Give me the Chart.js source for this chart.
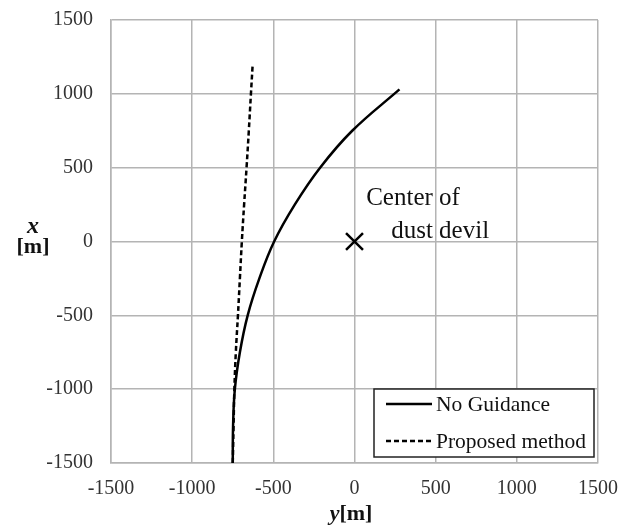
<!DOCTYPE html>
<html>
<head>
<meta charset="utf-8">
<script src="https://cdn.jsdelivr.net/npm/chart.js@4/dist/chart.umd.min.js"></script>
<style>
  html, body { margin: 0; padding: 0; background: #ffffff; }
  canvas { display: block; }
</style>
</head>
<body>
<canvas id="c" width="633" height="529"></canvas>
<script>
// ---- Data (horizontal axis = y [m], vertical axis = x [m]) ----
const noGuidanceX = [-1500, -1250, -1000, -750, -500, -250, 0, 250, 500, 750, 1030];
const noGuidanceY = [-750, -748, -737, -706, -658, -586, -495, -368, -212, -14, 277];

const proposedX = [-1500, -1250, -1000, -750, -500, -250, 0, 250, 500, 750, 1000, 1186];
const proposedY = [-750, -745, -740, -731, -718, -706, -694, -680, -665, -651, -638, -628];

const centerX = [0];
const centerY = [0];

const tickValues = [-1500, -1000, -500, 0, 500, 1000, 1500];

const seriesNames = ["No Guidance", "Proposed method"];
const centerLabel = ["Center of", "dust devil"];

function toPoints(hor, ver) {
  return hor.map((h, i) => ({ x: h, y: ver[i] }));
}

const SERIF = "'Liberation Serif', 'DejaVu Serif', serif";
const GRID = '#b4b4b4';

const overlayPlugin = {
  id: 'overlay',
  afterDraw(chart) {
    const ctx = chart.ctx;
    const area = chart.chartArea;
    const xs = chart.scales.x, ys = chart.scales.y;
    ctx.save();

    // Annotation text
    ctx.fillStyle = '#111111';
    ctx.font = "25px " + SERIF;
    ctx.textAlign = 'left';
    ctx.textBaseline = 'alphabetic';
    ctx.fillText(centerLabel[0], xs.getPixelForValue(72), ys.getPixelForValue(250));
    ctx.fillText(centerLabel[1], xs.getPixelForValue(226), ys.getPixelForValue(27));

    // Axis titles
    ctx.fillStyle = '#111111';
    ctx.textAlign = 'center';
    ctx.font = "italic bold 24px " + SERIF;
    ctx.fillText('x', 33, 233);
    ctx.font = "bold 22px " + SERIF;
    ctx.fillText('[m]', 33, 253);

    ctx.textAlign = 'left';
    ctx.font = "italic bold 22px " + SERIF;
    const yw = ctx.measureText('y').width;
    ctx.font = "bold 22px " + SERIF;
    const mw = ctx.measureText('[m]').width;
    const startX = 351 - (yw + mw) / 2;
    ctx.font = "italic bold 22px " + SERIF;
    ctx.fillText('y', startX, 520);
    ctx.font = "bold 22px " + SERIF;
    ctx.fillText('[m]', startX + yw, 520);

    // Legend box
    const bx = area.right - 224, by = area.bottom - 74, bw = 220, bh = 68;
    ctx.fillStyle = '#ffffff';
    ctx.fillRect(bx, by, bw, bh);
    ctx.strokeStyle = '#222222';
    ctx.lineWidth = 1.5;
    ctx.strokeRect(bx, by, bw, bh);

    const rows = [
      { name: seriesNames[0], dash: [], y: by + 15 },
      { name: seriesNames[1], dash: [5, 3], y: by + 52 }
    ];
    rows.forEach(r => {
      ctx.beginPath();
      ctx.setLineDash(r.dash);
      ctx.strokeStyle = '#000000';
      ctx.lineWidth = 2.5;
      ctx.moveTo(bx + 12, r.y);
      ctx.lineTo(bx + 58, r.y);
      ctx.stroke();
      ctx.setLineDash([]);
      ctx.fillStyle = '#111111';
      ctx.font = "21.5px " + SERIF;
      ctx.textAlign = 'left';
      ctx.textBaseline = 'alphabetic';
      ctx.fillText(r.name, bx + 62, r.y + 7);
    });

    ctx.restore();
  }
};

new Chart(document.getElementById('c'), {
  type: 'scatter',
  data: {
    datasets: [
      {
        label: seriesNames[0],
        data: toPoints(noGuidanceY, noGuidanceX),
        showLine: true,
        borderColor: '#000000',
        borderWidth: 2.5,
        pointRadius: 0,
        tension: 0.4,
        fill: false
      },
      {
        label: seriesNames[1],
        data: toPoints(proposedY, proposedX),
        showLine: true,
        borderColor: '#000000',
        borderWidth: 2.5,
        borderDash: [5, 3],
        pointRadius: 0,
        tension: 0.4,
        fill: false
      },
      {
        label: 'Center',
        data: toPoints(centerY, centerX),
        showLine: false,
        pointStyle: 'crossRot',
        pointRadius: 12,
        borderColor: '#000000',
        borderWidth: 2.5,
        backgroundColor: '#000000'
      }
    ]
  },
  options: {
    responsive: false,
    animation: false,
    devicePixelRatio: 1,
    layout: { padding: { left: 0, right: 35, top: 20, bottom: 0 } },
    plugins: {
      legend: { display: false },
      tooltip: { enabled: false }
    },
    scales: {
      x: {
        type: 'linear',
        min: -1500,
        max: 1500,
        afterBuildTicks(scale) { scale.ticks = tickValues.map(v => ({ value: v })); },
        afterFit(scale) { scale.height = 66; scale.paddingLeft = 0; scale.paddingRight = 0; },
        ticks: {
          font: { family: SERIF, size: 20 },
          color: '#333333',
          padding: 14,
          maxRotation: 0,
          callback: v => String(v)
        },
        grid: { color: GRID, lineWidth: 1.5, drawTicks: false },
        border: { color: GRID, width: 1.5 }
      },
      y: {
        type: 'linear',
        min: -1500,
        max: 1500,
        afterBuildTicks(scale) { scale.ticks = tickValues.map(v => ({ value: v })); },
        afterFit(scale) { scale.width = 111; scale.paddingTop = 0; scale.paddingBottom = 0; },
        ticks: {
          font: { family: SERIF, size: 20 },
          color: '#333333',
          padding: 18,
          callback: v => String(v)
        },
        grid: { color: GRID, lineWidth: 1.5, drawTicks: false },
        border: { color: GRID, width: 1.5 }
      }
    }
  },
  plugins: [overlayPlugin]
});
</script>
</body>
</html>
